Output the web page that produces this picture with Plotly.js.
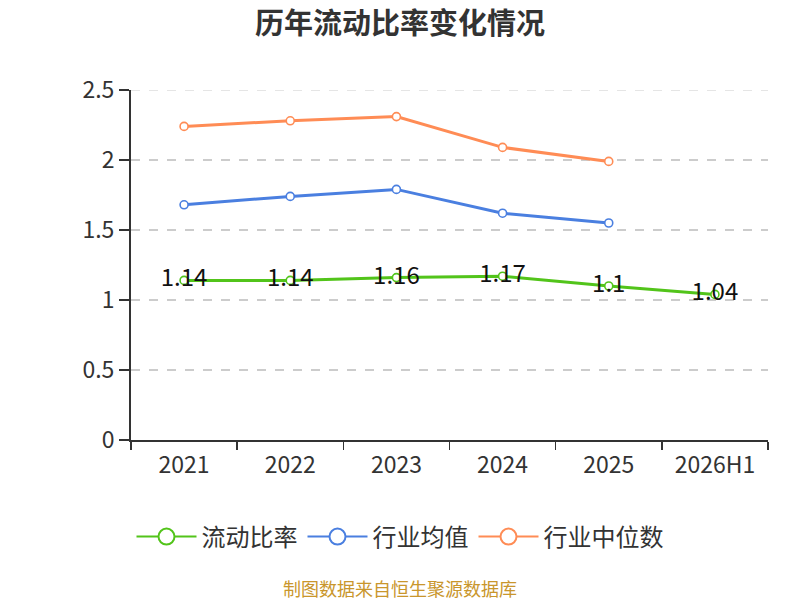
<!DOCTYPE html>
<html>
<head>
<meta charset="utf-8">
<script src="https://cdn.plot.ly/plotly-3.0.1.min.js"></script>
<style>html,body{margin:0;padding:0;background:#fff;}#chart{width:800px;height:600px;}</style>
</head>
<body>
<div id="chart"></div>
<script>
const categories = ["2021", "2022", "2023", "2024", "2025", "2026H1"];
const currentRatio = [1.14, 1.14, 1.16, 1.17, 1.1, 1.04];
const industryMean = [1.68, 1.74, 1.79, 1.62, 1.55];
const industryMedian = [2.24, 2.28, 2.31, 2.09, 1.99];
const currentRatioLabels = ["1.14", "1.14", "1.16", "1.17", "1.1", "1.04"];
const seriesNames = ["流动比率", "行业均值", "行业中位数"];
const seriesColors = ["#52c41a", "#4a7fe0", "#ff8c55"];
const yTicks = [0, 0.5, 1, 1.5, 2, 2.5];
const yTickText = ["0", "0.5", "1", "1.5", "2", "2.5"];
const yMax = 2.5;

const font = "'Noto Sans CJK SC', 'Noto Sans', sans-serif";

function series(name, x, y, color, extra) {
  return Object.assign({
    type: "scatter",
    mode: "lines+markers",
    name: name,
    x: x,
    y: y,
    line: {color: color, width: 3},
    marker: {symbol: "circle", size: 8, color: "#ffffff", line: {color: color, width: 1.6}},
    cliponaxis: false,
    showlegend: false,
    hoverinfo: "x+y"
  }, extra || {});
}

const traces = [
  series(seriesNames[0], categories, currentRatio, seriesColors[0], {
    mode: "lines+markers+text",
    text: currentRatioLabels,
    textposition: "middle center",
    textfont: {family: font, size: 24, color: "#111111"}
  }),
  series(seriesNames[1], categories.slice(0, industryMean.length), industryMean, seriesColors[1]),
  series(seriesNames[2], categories.slice(0, industryMedian.length), industryMedian, seriesColors[2])
];

// legend-only entries (no data) so the legend symbols can be drawn larger
seriesNames.forEach(function (name, i) {
  traces.push({
    type: "scatter",
    mode: "lines+markers",
    name: name,
    x: [null],
    y: [null],
    line: {color: seriesColors[i], width: 2},
    marker: {symbol: "circle", size: 16, color: "#ffffff", line: {color: seriesColors[i], width: 2}},
    showlegend: true,
    hoverinfo: "skip"
  });
});

const layout = {
  width: 800,
  height: 600,
  paper_bgcolor: "#ffffff",
  plot_bgcolor: "#ffffff",
  margin: {l: 131, r: 32, t: 90, b: 160, pad: 0},
  font: {family: font, color: "#333333"},
  title: {
    text: "<b>历年流动比率变化情况</b>",
    font: {family: font, size: 29, color: "#333333"},
    x: 0.5, xref: "container", xanchor: "center",
    y: 1 - 24 / 600, yref: "container", yanchor: "middle"
  },
  xaxis: {
    type: "category",
    categoryorder: "array",
    categoryarray: categories,
    range: [-0.5, categories.length - 0.5],
    showline: true,
    linecolor: "#333333",
    linewidth: 2,
    ticks: "outside",
    tickson: "boundaries",
    ticklen: 8,
    tickwidth: 1.5,
    tickcolor: "#333333",
    ticklabelstandoff: 3,
    showgrid: false,
    zeroline: false,
    tickfont: {family: font, size: 23, color: "#333333"},
    fixedrange: true
  },
  yaxis: {
    range: [0, yMax],
    tickvals: yTicks,
    ticktext: yTickText,
    showline: true,
    linecolor: "#333333",
    linewidth: 2,
    ticks: "outside",
    ticklen: 10,
    tickwidth: 1.5,
    tickcolor: "#333333",
    showgrid: true,
    gridcolor: "#cccccc",
    griddash: "dash",
    gridwidth: 1.2,
    zeroline: false,
    tickfont: {family: font, size: 23, color: "#333333"},
    fixedrange: true
  },
  shapes: [{
    type: "line", xref: "paper", yref: "y",
    x0: 0, x1: 1, y0: yMax, y1: yMax,
    line: {color: "#cccccc", width: 1.2, dash: "dash"},
    layer: "below"
  }],
  showlegend: true,
  legend: {
    orientation: "h",
    xref: "container", x: 0.5, xanchor: "center",
    yref: "container", y: 1 - 537 / 600, yanchor: "middle",
    font: {family: font, size: 24, color: "#333333"},
    itemwidth: 60,
    traceorder: "normal"
  },
  annotations: [{
    text: "制图数据来自恒生聚源数据库",
    xref: "paper", yref: "paper",
    x: (400 - 131) / 637, xanchor: "center",
    y: -(588 - 440) / 350, yanchor: "middle",
    showarrow: false,
    font: {family: font, size: 18, color: "#c9962c"}
  }]
};

Plotly.newPlot("chart", traces, layout, {displayModeBar: false, staticPlot: true});
</script>
</body>
</html>
